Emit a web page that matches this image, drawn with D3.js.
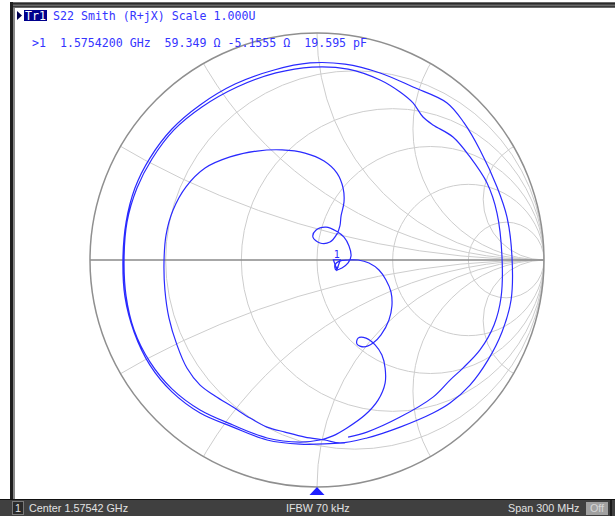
<!DOCTYPE html>
<html><head><meta charset="utf-8">
<script src="https://cdn.jsdelivr.net/npm/d3@7"></script>
<style>body{margin:0;background:#fff;overflow:hidden}</style>
</head><body>
<svg id="c" width="615" height="516"></svg>
<script>
// ---- data ----
const rGrid = [0.2, 0.5, 1, 2, 5];
const xGrid = [0.268, 0.577, 1, 1.732, 3.732];
const traceRe = [
 0.123,-0.075,-0.220,-0.370,-0.515,-0.639,-0.736,-0.806,-0.846,-0.855,-0.841,-0.802,-0.736,-0.639,-0.515,-0.361,-0.189,-0.031,0.123,0.278,0.423,0.573,0.648,0.718,0.793,0.837,0.859,0.855,0.815,0.753,0.674,0.586,0.511,0.366,0.220,0.101,
 0.035,-0.053,-0.141,-0.220,-0.295,-0.370,-0.449,-0.515,-0.573,-0.617,-0.652,-0.670,-0.674,-0.665,-0.634,-0.577,-0.493,-0.383,-0.264,-0.154,-0.053,0.031,0.088,0.115,0.119,0.106,
 0.101,0.088,0.057,0.013,-0.018,-0.004,0.040,0.084,0.119,0.141,0.150,0.137,0.110,0.084,0.079,0.101,0.137,0.181,0.229,0.273,0.304,0.326,0.330,0.317,0.282,0.247,0.207,0.176,0.181,0.216,0.256,0.286,0.300,0.300,0.269,0.211,0.132,0.070,
 0.013,-0.075,-0.220,-0.370,-0.515,-0.639,-0.736,-0.806,-0.841,-0.850,-0.837,-0.793,-0.727,-0.630,-0.507,-0.352,-0.181,-0.022,0.137,0.278,0.366,0.423,0.467,0.511,0.599,0.674,0.749,0.793,0.815,0.811,0.780,0.718,0.643,0.586,0.511,0.366,0.220,0.137
];
const traceIm = [
 -0.806,-0.811,-0.793,-0.736,-0.674,-0.581,-0.463,-0.317,-0.163,0.000,0.167,0.317,0.449,0.577,0.683,0.775,0.837,0.868,0.863,0.824,0.762,0.692,0.604,0.485,0.322,0.189,0.013,-0.176,-0.317,-0.441,-0.551,-0.630,-0.674,-0.736,-0.784,-0.806,
 -0.793,-0.780,-0.758,-0.736,-0.696,-0.648,-0.599,-0.551,-0.476,-0.374,-0.256,-0.132,-0.009,0.110,0.220,0.322,0.405,0.454,0.480,0.485,0.471,0.436,0.383,0.317,0.256,0.194,
 0.150,0.115,0.079,0.075,0.101,0.132,0.145,0.128,0.101,0.062,0.018,-0.013,-0.035,-0.044,-0.022,-0.004,0.000,0.000,-0.013,-0.044,-0.088,-0.141,-0.203,-0.264,-0.330,-0.366,-0.383,-0.370,-0.344,-0.344,-0.374,-0.419,-0.476,-0.542,-0.617,-0.683,-0.740,-0.775,
 -0.793,-0.802,-0.784,-0.727,-0.661,-0.568,-0.449,-0.308,-0.159,0.000,0.167,0.317,0.445,0.573,0.674,0.762,0.824,0.850,0.841,0.793,0.740,0.692,0.630,0.595,0.542,0.454,0.339,0.207,0.013,-0.163,-0.286,-0.396,-0.476,-0.529,-0.604,-0.692,-0.758,-0.780
];
const markerLabel = ["1"];
const markerR = [59.349], markerX = [-5.1555];
const headerText = ["S22 Smith (R+jX) Scale 1.000U"];
const readoutText = [">1  1.5754200 GHz  59.349 \u03a9 -5.1555 \u03a9  19.595 pF"];
const statusText = ["Center 1.57542 GHz", "IFBW 70 kHz", "Span 300 MHz"];

// ---- drawing ----
const svg = d3.select('#c');
const cx = 317, cy = 260, R = 227;
const sx = d3.scaleLinear().domain([-1, 1]).range([cx - R, cx + R]);
const sy = d3.scaleLinear().domain([-1, 1]).range([cy + R, cy - R]);
const k = (sx(1) - sx(0));

// frame
svg.append('rect').attr('x',10).attr('y',2).attr('width',605).attr('height',6).attr('fill','#6a6a6a');
svg.append('rect').attr('x',10).attr('y',3).attr('width',605).attr('height',1.5).attr('fill','#2a2a2a');
svg.append('rect').attr('x',10).attr('y',6).attr('width',605).attr('height',1).attr('fill','#3a3a3a');
svg.append('rect').attr('x',10).attr('y',2).attr('width',3).attr('height',498).attr('fill','#1e1e1e');
svg.append('rect').attr('x',13).attr('y',8).attr('width',2).attr('height',492).attr('fill','#888');

// grid
const defs = svg.append('defs');
defs.append('clipPath').attr('id','uc').append('circle')
  .attr('cx', sx(0)).attr('cy', sy(0)).attr('r', k);
const g = svg.append('g').attr('clip-path','url(#uc)');
const gridCol = '#cdcdcd';
rGrid.forEach(r => {
  g.append('circle').attr('cx', sx(r/(1+r))).attr('cy', sy(0)).attr('r', k/(1+r))
   .attr('fill','none').attr('stroke',gridCol).attr('stroke-width',1);
});
xGrid.forEach(x => {
  [1,-1].forEach(s => {
    g.append('circle').attr('cx', sx(1)).attr('cy', sy(s/x)).attr('r', k/x)
     .attr('fill','none').attr('stroke',gridCol).attr('stroke-width',1);
  });
});
svg.append('line').attr('x1',sx(-1)).attr('x2',sx(1)).attr('y1',sy(0)).attr('y2',sy(0))
  .attr('stroke','#8a8a8a').attr('stroke-width',1.4);
svg.append('circle').attr('cx',sx(0)).attr('cy',sy(0)).attr('r',k)
  .attr('fill','none').attr('stroke','#8f8f8f').attr('stroke-width',1.5);

// trace
const pts = traceRe.map((d,i)=>[d, traceIm[i]]);
const line = d3.line().x(d=>sx(d[0])).y(d=>sy(d[1])).curve(d3.curveCatmullRom.alpha(0.5));
svg.append('path').attr('d', line(pts)).attr('fill','none').attr('stroke','#2a2aff').attr('stroke-width',1.2);

// marker
const zr = markerR[0]/50, zx = markerX[0]/50;
const den = (zr+1)*(zr+1) + zx*zx;
const gRe = ((zr-1)*(zr+1) + zx*zx)/den;
const gIm = (zx*(zr+1) - (zr-1)*zx)/den;
const mx = sx(gRe), my = sy(gIm);
svg.append('path').attr('d',`M${mx-3.5},${my-10}L${mx+3.5},${my-10}L${mx},${my}Z`)
  .attr('fill','none').attr('stroke','#2a2aff').attr('stroke-width',1.2);
svg.append('path').attr('d',`M${mx-2},${my-3}L${mx+2},${my-3}L${mx},${my}Z`).attr('fill','#2a2aff');
svg.append('text').attr('x',mx).attr('y',my-12).attr('text-anchor','middle')
  .attr('font-family','DejaVu Sans Mono').attr('font-size',10).attr('fill','#2a2aff').text(markerLabel[0]);

// bottom stimulus indicator
svg.append('path').attr('d',`M${sx(0)},487L${sx(0)+7.5},495L${sx(0)-7.5},495Z`).attr('fill','#2020ff');

// header
svg.append('path').attr('d','M17,11L22,15.5L17,20Z').attr('fill','#000050');
svg.append('rect').attr('x',24).attr('y',10).attr('width',23).attr('height',11).attr('fill','#00008c');
svg.append('text').attr('x',25).attr('y',20).attr('font-family','DejaVu Sans Mono').attr('font-size',11.6)
  .attr('fill','#fff').text('Tr1');
svg.append('text').attr('x',53).attr('y',20).attr('font-family','DejaVu Sans Mono').attr('font-size',11.6)
  .attr('fill','#3535ff').style('white-space','pre').text(headerText[0]);
svg.append('text').attr('x',32).attr('y',47).attr('font-family','DejaVu Sans Mono').attr('font-size',11.6)
  .attr('fill','#3535ff').style('white-space','pre').text(readoutText[0]);

// status bar
svg.append('rect').attr('x',0).attr('y',499).attr('width',615).attr('height',1).attr('fill','#111');
svg.append('rect').attr('x',0).attr('y',500).attr('width',615).attr('height',16).attr('fill','#404040');
svg.append('rect').attr('x',12.5).attr('y',501.5).attr('width',11).attr('height',13).attr('fill','#2a2a2a').attr('stroke','#7a7a7a');
const sf = {family:'Liberation Sans', size:10.8, col:'#e2e2e2'};
svg.append('text').attr('x',18).attr('y',512).attr('text-anchor','middle').attr('font-family',sf.family).attr('font-size',sf.size).attr('fill',sf.col).text('1');
svg.append('text').attr('x',29).attr('y',512).attr('font-family',sf.family).attr('font-size',sf.size).attr('fill',sf.col).text(statusText[0]);
svg.append('text').attr('x',286).attr('y',512).attr('font-family',sf.family).attr('font-size',sf.size).attr('fill',sf.col).text(statusText[1]);
svg.append('text').attr('x',508).attr('y',512).attr('font-family',sf.family).attr('font-size',sf.size).attr('fill',sf.col).text(statusText[2]);
svg.append('rect').attr('x',586).attr('y',502).attr('width',22).attr('height',13).attr('fill','#a0a0a0');
svg.append('text').attr('x',597).attr('y',512).attr('text-anchor','middle').attr('font-family',sf.family).attr('font-size',sf.size).attr('fill','#d6d6d6').text('Off');
svg.append('rect').attr('x',610).attr('y',500).attr('width',2).attr('height',16).attr('fill','#1a1a1a');
</script>
</body></html>
